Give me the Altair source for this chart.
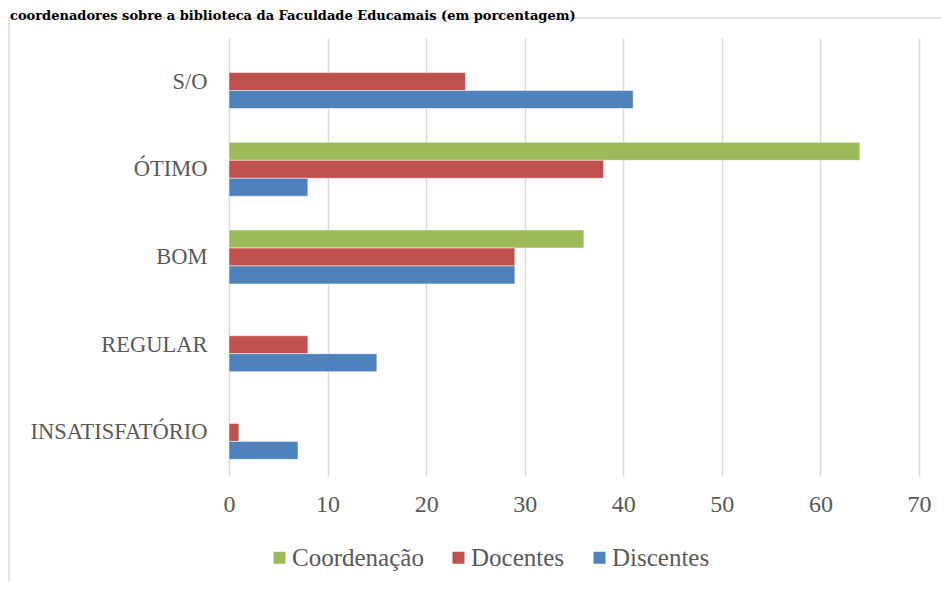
import altair as alt
import pandas as pd

categories = ["S/O", "ÓTIMO", "BOM", "REGULAR", "INSATISFATÓRIO"]
series = ["Coordenação", "Docentes", "Discentes"]
colors = ["#9BBB59", "#C0504D", "#4F81BD"]
coordenacao = [None, 64, 36, None, None]
docentes = [24, 38, 29, 8, 1]
discentes = [41, 8, 29, 15, 7]
ticks = [0, 10, 20, 30, 40, 50, 60, 70]
title_text = "coordenadores sobre a biblioteca da Faculdade Educamais (em porcentagem)"

rows = []
for s, vals in zip(series, [coordenacao, docentes, discentes]):
    for c, v in zip(categories, vals):
        if v is not None:
            rows.append({"categoria": c, "grupo": s, "valor": v})
df = pd.DataFrame(rows)

FONT = "Liberation Serif"
GRAY = "#595959"

bars = alt.Chart(df).mark_bar(stroke="white", strokeWidth=0.5).encode(
    y=alt.Y("categoria:N", sort=categories, title=None,
            scale=alt.Scale(paddingInner=0.386, paddingOuter=0.19),
            axis=alt.Axis(ticks=False, domain=False, labelFont=FONT, labelFontSize=22.5,
                          labelColor=GRAY, labelPadding=22, grid=False, labelLimit=0)),
    yOffset=alt.YOffset("grupo:N", sort=series, scale=alt.Scale(paddingInner=0, paddingOuter=0)),
    x=alt.X("valor:Q", title=None, scale=alt.Scale(domain=[0, 70], nice=False),
            axis=alt.Axis(values=ticks, ticks=False, domain=False, grid=True,
                          gridColor="#D9D9D9", gridWidth=1.5, labelFont=FONT,
                          labelFontSize=24, labelColor=GRAY, labelPadding=16,
                          labelFlush=False)),
    color=alt.Color("grupo:N", scale=alt.Scale(domain=series, range=colors),
                    legend=alt.Legend(title=None, orient="none", direction="horizontal",
                                      legendX=38, legendY=507, symbolType="square",
                                      symbolSize=144, symbolStrokeWidth=0,
                                      labelFont=FONT, labelFontSize=25, labelColor=GRAY,
                                      columnPadding=22, labelOffset=0, padding=0)),
)

frame = alt.Chart(pd.DataFrame([{"a": 1}])).mark_rect(
    filled=False, stroke="#D9D9D9", strokeWidth=1.5
).encode(x=alt.value(-220), x2=alt.value(900), y=alt.value(-20), y2=alt.value(700))

title = alt.Chart(pd.DataFrame([{"t": title_text}])).mark_text(
    align="left", baseline="alphabetic", font="DejaVu Serif", fontSize=13, fontWeight="bold",
    color="black"
).encode(text="t:N", x=alt.value(-219), y=alt.value(-18))

chart = alt.layer(frame, title, bars).properties(
    width=690, height=438,
    autosize=alt.AutoSizeParams(type="none"),
    padding={"left": 221, "top": 30, "right": 22, "bottom": 105},
).configure_view(stroke=None)

chart.save("out.html", embed_options={"renderer": "svg", "actions": False})
